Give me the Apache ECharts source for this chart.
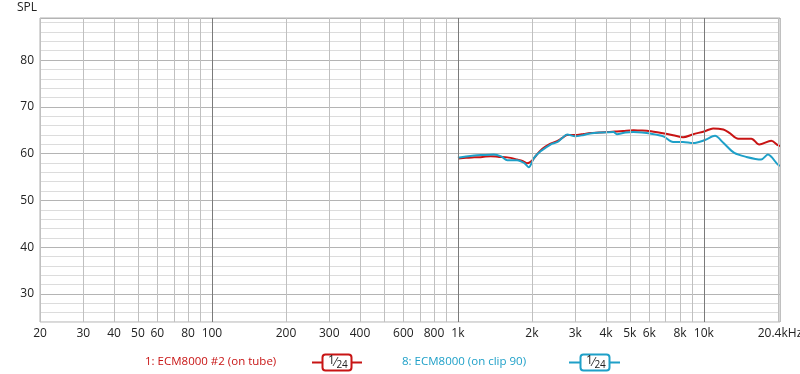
<!DOCTYPE html>
<html>
<head>
<meta charset="utf-8">
<script src="https://cdn.jsdelivr.net/npm/echarts@6/dist/echarts.min.js"></script>
<style>html,body{margin:0;padding:0;background:#fff}#c{width:800px;height:374px}</style>
</head>
<body>
<div id="c"></div>
<script>
// ---- data ----
var redFreq = [1007,1080,1164,1260,1360,1470,1590,1740,1840,1910,2000,2080,2170,2270,2380,2530,2650,2780,3050,3250,3450,3750,4040,4250,4430,4700,5170,5500,5860,6630,7500,8230,9050,10100,10900,12000,12700,13800,15600,16800,18800,20000,20400];
var redVal  = [58.95,59.1,59.2,59.3,59.45,59.3,59.2,58.75,58.4,57.95,58.5,59.6,60.7,61.5,62.15,62.65,63.3,64.0,64.0,64.2,64.4,64.5,64.6,64.7,64.75,64.85,65.0,64.95,64.9,64.45,63.95,63.5,64.15,64.8,65.4,65.15,64.45,63.2,63.2,61.95,62.75,61.8,61.6];
var blueFreq = [1000,1080,1164,1260,1400,1500,1590,1740,1860,1940,2040,2170,2380,2530,2650,2780,3000,3250,3450,3800,4290,4430,4800,5170,5600,6040,6840,7500,8230,9050,10100,11100,12000,13300,14900,17100,18200,20000,20400];
var blueVal  = [59.1,59.4,59.6,59.7,59.8,59.4,58.6,58.6,58.0,57.1,59.1,60.5,61.95,62.45,63.3,64.1,63.7,64.0,64.3,64.5,64.65,64.15,64.5,64.6,64.5,64.3,63.7,62.5,62.5,62.25,62.9,63.8,62.3,60.15,59.3,58.75,59.8,57.65,57.4];
var xGridValues = [20,30,40,50,60,70,80,90,100,200,300,400,500,600,700,800,900,1000,2000,3000,4000,5000,6000,7000,8000,9000,10000,20000,20400];
var xTickValues = [20,30,40,50,60,80,100,200,300,400,600,800,1000,2000,3000,4000,5000,6000,8000,10000,20400];
var xTickLabels = ['20','30','40','50','60','80','100','200','300','400','600','800','1k','2k','3k','4k','5k','6k','8k','10k','20.4kHz'];
var yLabels = [30,40,50,60,70,80];
var seriesNames = ['1: ECM8000 #2 (on tube)', '8: ECM8000 (on clip 90)'];

var RED = '#c81414', BLUE = '#1ea0c8';
var FONT = '"Open Sans", "Noto Sans", sans-serif';

function pairs(f, v) { return f.map(function (x, i) { return [x, v[i]]; }); }

var gridMarks = xGridValues.map(function (v) {
  var idx = xTickValues.indexOf(v);
  var decade = (v === 100 || v === 1000 || v === 10000);
  return {
    xAxis: v,
    lineStyle: { color: decade ? '#7a7a7a' : '#c0c0c0', width: 1, type: 'solid' },
    label: {
      show: idx >= 0,
      formatter: idx >= 0 ? xTickLabels[idx] : '',
      position: 'start',
      distance: 6,
      color: '#222',
      fontSize: 12,
      fontFamily: FONT
    }
  };
});

var fracRich = {
  a: { fontSize: 12, fill: '#222', fontFamily: FONT, verticalAlign: 'top' },
  b: { fontSize: 12, fill: '#222', fontFamily: FONT },
  c: { fontSize: 10, fill: '#222', fontFamily: FONT, padding: [5, 0, 0, 0] }
};

var chart = echarts.init(document.getElementById('c'), null, { renderer: 'canvas' });
chart.setOption({
  animation: false,
  backgroundColor: '#fff',
  grid: { left: 40, right: 20, top: 18, bottom: 52, outerBoundsMode: 'none', containLabel: false, show: true, borderColor: '#b0b0b0', borderWidth: 1, backgroundColor: 'transparent' },
  xAxis: {
    type: 'log', logBase: 10, min: 20, max: 20400,
    axisLine: { show: false }, axisTick: { show: false }, axisLabel: { show: false },
    splitLine: { show: false }, minorTick: { show: false }, minorSplitLine: { show: false }
  },
  yAxis: {
    type: 'value', min: 24, max: 89, interval: 2,
    name: 'SPL', nameLocation: 'end', nameGap: 10,
    nameTextStyle: { color: '#222', fontSize: 12, fontFamily: FONT, align: 'right', verticalAlign: 'middle', padding: [0, 3, 0, 0] },
    axisLine: { show: false }, axisTick: { show: false },
    axisLabel: {
      color: '#222', fontSize: 12, fontFamily: FONT, margin: 6,
      formatter: function (v) { return yLabels.indexOf(v) >= 0 ? String(v) : ''; }
    },
    splitLine: { show: true, lineStyle: { color: ['#dcdcdc', '#dcdcdc', '#dcdcdc', '#b4b4b4', '#dcdcdc'], width: 1 } }
  },
  series: [
    {
      type: 'line', name: 'grid', data: [], silent: true, z: 1,
      markLine: { silent: true, symbol: ['none', 'none'], animation: false, data: gridMarks }
    },
    {
      type: 'line', name: seriesNames[0], data: pairs(redFreq, redVal), showSymbol: false, smooth: 0.3,
      lineStyle: { color: RED, width: 2 }, itemStyle: { color: RED }, z: 3
    },
    {
      type: 'line', name: seriesNames[1], data: pairs(blueFreq, blueVal), showSymbol: false, smooth: 0.3,
      lineStyle: { color: BLUE, width: 2 }, itemStyle: { color: BLUE }, z: 4
    }
  ],
  graphic: [
    { type: 'text', left: 145, top: 356, style: { text: seriesNames[0], fill: RED, font: '11.5px ' + FONT } },
    { type: 'line', shape: { x1: 312, y1: 362.5, x2: 362, y2: 362.5 }, style: { stroke: RED, lineWidth: 2 } },
    { type: 'rect', shape: { x: 322.5, y: 354.5, width: 29, height: 16, r: 3 }, style: { fill: '#fff', stroke: RED, lineWidth: 2 } },
    { type: 'text', x: 328, y: 355, style: { text: '{a|1}{b|⁄}{c|24}', rich: fracRich } },
    { type: 'text', left: 402, top: 356, style: { text: seriesNames[1], fill: BLUE, font: '11.5px ' + FONT } },
    { type: 'line', shape: { x1: 569, y1: 362.5, x2: 620, y2: 362.5 }, style: { stroke: BLUE, lineWidth: 2 } },
    { type: 'rect', shape: { x: 580.5, y: 354.5, width: 29, height: 16, r: 3 }, style: { fill: '#fff', stroke: BLUE, lineWidth: 2 } },
    { type: 'text', x: 586, y: 355, style: { text: '{a|1}{b|⁄}{c|24}', rich: fracRich } }
  ]
});
</script>
</body>
</html>
